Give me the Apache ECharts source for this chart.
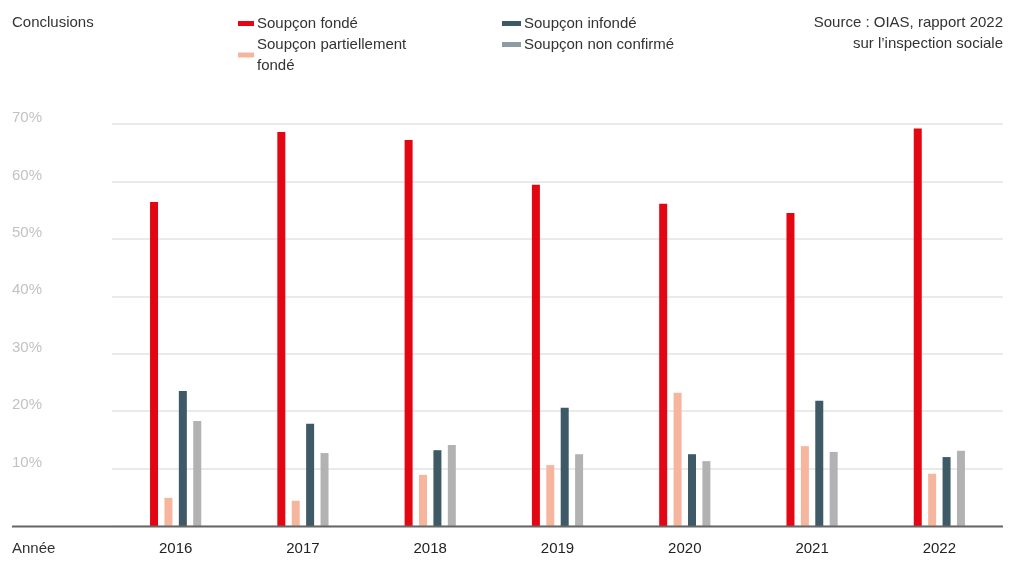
<!DOCTYPE html>
<html>
<head>
<meta charset="utf-8">
<script src="https://cdn.jsdelivr.net/npm/echarts@6/dist/echarts.min.js"></script>
<style>
  html, body { margin: 0; padding: 0; background: #fff; }
  #main { width: 1015px; height: 563px; }
</style>
</head>
<body>
<div id="main"></div>
<script>
var years = ['2016', '2017', '2018', '2019', '2020', '2021', '2022'];
var fonde = [56.4, 68.6, 67.2, 59.4, 56.1, 54.5, 69.2];
var partiel = [4.9, 4.4, 8.9, 10.6, 23.2, 13.9, 9.1];
var infonde = [23.5, 17.8, 13.2, 20.6, 12.5, 21.8, 12.0];
var nonConfirme = [18.3, 12.7, 14.1, 12.5, 11.3, 12.9, 13.1];
var yTicks = ['', '10%', '20%', '30%', '40%', '50%', '60%', '70%'];

(function() {
    var chartDom = document.getElementById('main');
    var myChart = echarts.init(chartDom);
    var font = '"Liberation Sans", Arial, sans-serif';
    var option;

    function bar(name, data, color) {
        return {
            name: name,
            type: 'bar',
            data: data,
            barWidth: 8,
            barGap: '80%',
            itemStyle: { color: color },
            emphasis: { disabled: true }
        };
    }

    function label(txt, pos, top) {
        var g = {
            type: 'text',
            top: top,
            z: 100,
            style: { text: txt, font: '15px ' + font, fill: '#333', lineHeight: 21 }
        };
        if (pos === 'right') g.right = 12;
        else g.left = 12;
        return g;
    }

    var legendText = { fontSize: 15, color: '#333', lineHeight: 21, padding: [0, 0, 0, -2] };

    option = {
        animation: false,
        textStyle: { fontFamily: font },
        grid: {
            left: 112,
            right: 12,
            top: 124,
            bottom: 37
        },
        legend: [{
                left: 233,
                top: 8,
                orient: 'vertical',
                itemWidth: 16,
                itemHeight: 5,
                itemGap: 0,
                icon: 'rect',
                textStyle: legendText,
                formatter: function(n) {
                    return n === 'Soupçon partiellement fondé' ? 'Soupçon partiellement\nfondé' : n;
                },
                data: ['Soupçon fondé', 'Soupçon partiellement fondé']
            },
            {
                left: 497,
                top: 8,
                orient: 'vertical',
                itemWidth: 19,
                itemHeight: 5,
                itemGap: 0,
                icon: 'rect',
                textStyle: legendText,
                data: ['Soupçon infondé', { name: 'Soupçon non confirmé', itemStyle: { color: '#8f9ba3' } }]
            }
        ],
        xAxis: {
            type: 'category',
            data: years,
            axisLine: { show: false },
            axisTick: { show: false },
            axisLabel: { fontSize: 15, color: '#222', margin: 15 }
        },
        yAxis: {
            type: 'value',
            min: 0,
            max: 70,
            interval: 10,
            axisLine: { show: false },
            axisTick: { show: false },
            splitLine: { lineStyle: { color: '#e3e3e3', width: 1.5 } },
            axisLabel: {
                fontSize: 15,
                color: '#c2c2c2',
                align: 'left',
                margin: 100,
                verticalAlign: 'bottom',
                lineHeight: 12,
                formatter: function(v) { return yTicks[Math.round(v / 10)]; }
            }
        },
        graphic: [
            label('Conclusions', 'left', 12),
            label('Source : OIAS, rapport 2022', 'right', 12),
            label('sur l\u2019inspection sociale', 'right', 33),
            label('Année', 'left', 538),
            {
                type: 'line',
                z: 100,
                shape: { x1: 12, y1: 526.5, x2: 1003, y2: 526.5 },
                style: { stroke: '#666', lineWidth: 2 }
            }
        ],
        series: [
            bar('Soupçon fondé', fonde, '#e30613'),
            bar('Soupçon partiellement fondé', partiel, '#f5b69d'),
            bar('Soupçon infondé', infonde, '#3d5a66'),
            bar('Soupçon non confirmé', nonConfirme, '#b2b2b2')
        ]
    };

    myChart.setOption(option);
})();
</script>
</body>
</html>
